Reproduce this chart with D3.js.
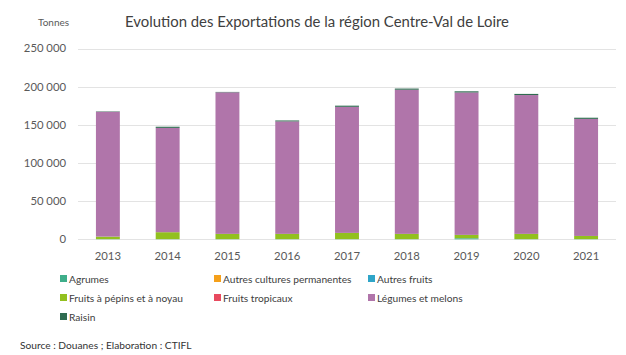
<!DOCTYPE html>
<html><head><meta charset="utf-8">
<script src="https://cdn.jsdelivr.net/npm/d3@7"></script>
<style>body{margin:0;background:#fff}svg{display:block;font-family:Lato,"Open Sans",sans-serif}</style>
</head><body><svg id="c" width="626" height="355"></svg>
<script>
const years = ["2013","2014","2015","2016","2017","2018","2019","2020","2021"];
const seriesNames = ["Agrumes","Autres cultures permanentes","Autres fruits","Fruits à pépins et à noyau","Fruits tropicaux","Légumes et melons","Raisin"];
const seriesColors = ["#3fae8a","#f5a01a","#2fa5c8","#92c01f","#e84a5f","#b075aa","#2f6b50"];
const agrumes   = [100, 100, 100, 100, 100, 100, 1300, 100, 100];
const autresCult= [0, 0, 0, 0, 0, 0, 0, 0, 0];
const autresFr  = [100, 100, 100, 100, 100, 100, 100, 100, 100];
const pepins    = [3300, 9100, 6900, 6900, 8200, 6900, 4400, 6900, 4200];
const tropicaux = [0, 0, 0, 0, 0, 0, 0, 0, 0];
const legumes   = [163600, 136700, 185500, 147400, 165200, 188900, 186600, 181900, 153400];
const raisin    = [500, 1500, 500, 1200, 1500, 1500, 1500, 1500, 1500];
const yTicks = [0, 50000, 100000, 150000, 200000, 250000];

const seriesData = [agrumes, autresCult, autresFr, pepins, tropicaux, legumes, raisin];
const rows = years.map((y, i) => {
  const r = {year: y};
  seriesNames.forEach((n, k) => r[n] = seriesData[k][i]);
  return r;
});
const svg = d3.select("#c");
const x = d3.scaleBand().domain(years).range([78, 616]).paddingInner(0.6).paddingOuter(0.3);
const y = d3.scaleLinear().domain([0, 250000]).range([239.3, 48.5]);
const fmt = v => d3.format(",")(v).replace(/,/g, "\u202f");

// gridlines
svg.append("g").selectAll("line").data(yTicks).join("line")
  .attr("x1", 78).attr("x2", 616)
  .attr("y1", d => Math.round(y(d)) + 0.5).attr("y2", d => Math.round(y(d)) + 0.5)
  .attr("stroke", "#e3e3e3").attr("stroke-width", 1);
// y labels
svg.append("g").selectAll("text").data(yTicks).join("text")
  .attr("x", 66).attr("y", d => y(d)).attr("dy", "0.35em")
  .attr("text-anchor", "end").attr("font-size", 11.3).attr("fill", "#595959")
  .text(d => d === 0 ? "0" : fmt(d));

const stack = d3.stack().keys(seriesNames)(rows);
svg.append("g").selectAll("g").data(stack).join("g")
  .attr("fill", (d, i) => seriesColors[i])
  .selectAll("rect").data(d => d).join("rect")
  .attr("x", d => x(d.data.year)).attr("width", x.bandwidth())
  .attr("y", d => y(d[1])).attr("height", d => Math.max(0, y(d[0]) - y(d[1])));

// x labels
svg.append("g").selectAll("text").data(years).join("text")
  .attr("x", d => x(d) + x.bandwidth() / 2).attr("y", 260)
  .attr("text-anchor", "middle").attr("font-size", 11.3).attr("fill", "#595959")
  .text(d => d);

// title
svg.append("text").attr("x", 317).attr("y", 27).attr("text-anchor", "middle")
  .attr("font-size", 14.9).attr("fill", "#404040")
  .text("Evolution des Exportations de la région Centre-Val de Loire");
svg.append("text").attr("x", 38).attr("y", 26).attr("font-size", 10).attr("fill", "#595959").text("Tonnes");

// legend
const colX = [60, 214, 368];
const rowY = [279, 298, 317];
const lg = svg.append("g").selectAll("g").data(seriesNames).join("g")
  .attr("transform", (d, i) => `translate(${colX[i % 3]},${rowY[Math.floor(i / 3)]})`);
lg.append("rect").attr("x", 0).attr("y", -4).attr("width", 7).attr("height", 7)
  .attr("fill", (d, i) => seriesColors[i]);
lg.append("text").attr("x", 9).attr("y", 0).attr("dy", "0.35em")
  .attr("font-size", 10.2).attr("fill", "#404040").text(d => d);

svg.append("text").attr("x", 20).attr("y", 349).attr("font-size", 10.2).attr("fill", "#333")
  .text("Source : Douanes ; Elaboration : CTIFL");
</script></body></html>
